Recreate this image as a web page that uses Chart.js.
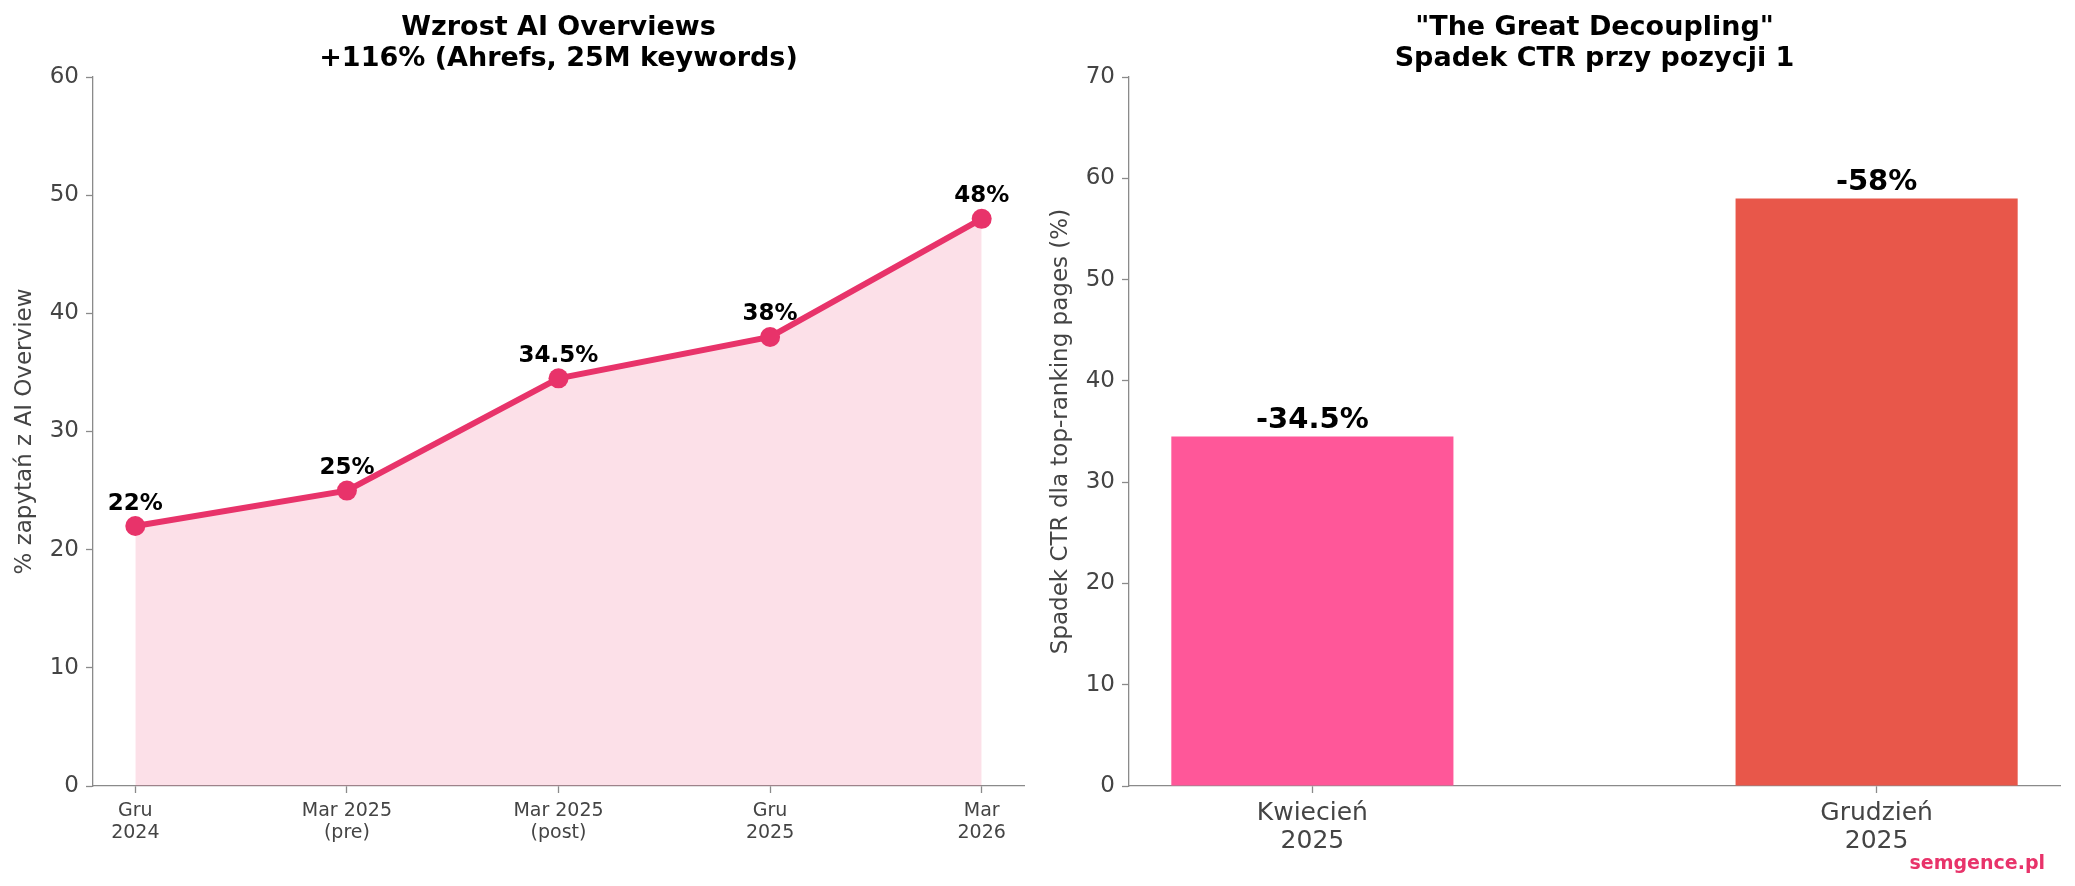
<!DOCTYPE html>
<html>
<head>
<meta charset="utf-8">
<script src="https://cdn.jsdelivr.net/npm/chart.js@4/dist/chart.umd.min.js"></script>
<style>
  html, body { margin: 0; padding: 0; background: #fff; }
  #wrap { position: relative; width: 2075px; height: 886px; }
  .box { position: absolute; top: 0; height: 886px; }
  #boxLeft { left: 0; width: 1037px; }
  #boxRight { left: 1037px; width: 1038px; }
</style>
</head>
<body>
<div id="wrap">
  <div class="box" id="boxLeft"><canvas id="growthChart"></canvas></div>
  <div class="box" id="boxRight"><canvas id="ctrChart"></canvas></div>
</div>
<script>
// Dane - wykres lewy (udział zapytań z AI Overview)
const okresy = [['Gru', '2024'], ['Mar 2025', '(pre)'], ['Mar 2025', '(post)'], ['Gru', '2025'], ['Mar', '2026']];
const udzialAIO = [22, 25, 34.5, 38, 48];
const etykietyAIO = ['22%', '25%', '34.5%', '38%', '48%'];

// Dane - wykres prawy (spadek CTR)
const miesiace = [['Kwiecień', '2025'], ['Grudzień', '2025']];
const spadekCTR = [34.5, 58];
const etykietyCTR = ['-34.5%', '-58%'];

const FONT = "'DejaVu Sans', sans-serif";
const SZARY = '#444444';
const OS = '#8a8a8a';

Chart.defaults.font.family = FONT;
Chart.defaults.animation = false;

// Etykiety wartości nad punktami / słupkami
const etykietyPlugin = {
  id: 'etykiety',
  afterDatasetsDraw(chart, args, opts) {
    const ctx = chart.ctx;
    const meta = chart.getDatasetMeta(0);
    ctx.save();
    ctx.fillStyle = '#000';
    ctx.font = 'bold ' + opts.size + 'px ' + FONT;
    ctx.textAlign = 'center';
    ctx.textBaseline = 'bottom';
    meta.data.forEach((el, i) => {
      ctx.fillText(opts.teksty[i], el.x, el.y - opts.odstep);
    });
    ctx.restore();
  }
};

// Znak wodny w prawym dolnym rogu
const znakPlugin = {
  id: 'znak',
  afterDraw(chart) {
    const ctx = chart.ctx;
    ctx.save();
    ctx.fillStyle = '#e8336a';
    ctx.font = 'bold 19px ' + FONT;
    ctx.textAlign = 'right';
    ctx.textBaseline = 'middle';
    ctx.fillText('semgence.pl', chart.width - 30, 864);
    ctx.restore();
  }
};

function osY(max, tytul) {
  return {
    min: 0,
    max: max,
    border: { color: OS, width: 1.3 },
    grid: { drawOnChartArea: false, tickLength: 7, color: OS, tickWidth: 1.3 },
    ticks: { stepSize: 10, color: SZARY, font: { size: 23 }, padding: 7 },
    title: { display: true, text: tytul, color: SZARY, font: { size: 23 }, padding: { top: 10, bottom: 0 } },
    afterFit: s => { s.width = 92; }
  };
}

new Chart(document.getElementById('growthChart'), {
  type: 'line',
  data: {
    datasets: [{
      data: udzialAIO.map((v, i) => ({ x: i, y: v })),
      borderColor: '#e8336a',
      backgroundColor: 'rgba(240, 100, 140, 0.2)',
      borderWidth: 6,
      fill: 'origin',
      pointRadius: 10,
      pointBackgroundColor: '#e8336a',
      pointBorderWidth: 0,
      tension: 0
    }]
  },
  options: {
    responsive: true,
    maintainAspectRatio: false,
    layout: { padding: { left: 1, right: 13, top: 0, bottom: 0 } },
    plugins: {
      legend: { display: false },
      tooltip: { enabled: false },
      title: {
        display: true,
        fullSize: false,
        text: ['Wzrost AI Overviews', '+116% (Ahrefs, 25M keywords)'],
        color: '#000',
        font: { size: 27, weight: 'bold', lineHeight: 1.13 },
        padding: { top: 13, bottom: 3 }
      },
      etykiety: { teksty: etykietyAIO, size: 23, odstep: 11 }
    },
    scales: {
      x: {
        type: 'linear',
        min: -0.2,
        max: 4.2,
        border: { color: OS, width: 1.3 },
        grid: { drawOnChartArea: false, tickLength: 7, color: OS, tickWidth: 1.3 },
        afterBuildTicks: s => { s.ticks = okresy.map((_, i) => ({ value: i })); },
        ticks: {
          color: SZARY,
          font: { size: 19, lineHeight: 1.16 },
          padding: 7,
          maxRotation: 0,
          autoSkip: false,
          callback: v => okresy[v]
        },
        afterFit: s => { s.height = 100; }
      },
      y: osY(60, '% zapytań z AI Overview')
    }
  },
  plugins: [etykietyPlugin]
});

new Chart(document.getElementById('ctrChart'), {
  type: 'bar',
  data: {
    datasets: [{
      data: spadekCTR.map((v, i) => ({ x: i, y: v })),
      backgroundColor: ['#ff5799', '#e8574a'],
      borderWidth: 0,
      categoryPercentage: 1,
      barPercentage: 0.5
    }]
  },
  options: {
    responsive: true,
    maintainAspectRatio: false,
    layout: { padding: { left: 0, right: 15, top: 0, bottom: 0 } },
    plugins: {
      legend: { display: false },
      tooltip: { enabled: false },
      title: {
        display: true,
        fullSize: false,
        text: ['"The Great Decoupling"', 'Spadek CTR przy pozycji 1'],
        color: '#000',
        font: { size: 27, weight: 'bold', lineHeight: 1.13 },
        padding: { top: 13, bottom: 3 }
      },
      etykiety: { teksty: etykietyCTR, size: 29, odstep: 2 }
    },
    scales: {
      x: {
        type: 'linear',
        min: -0.325,
        max: 1.325,
        offset: false,
        border: { color: OS, width: 1.3 },
        grid: { offset: false, drawOnChartArea: false, tickLength: 7, color: OS, tickWidth: 1.3 },
        afterBuildTicks: s => { s.ticks = miesiace.map((_, i) => ({ value: i })); },
        ticks: {
          color: SZARY,
          font: { size: 25, lineHeight: 1.12 },
          padding: 6,
          maxRotation: 0,
          autoSkip: false,
          callback: v => miesiace[v]
        },
        afterFit: s => { s.height = 100; }
      },
      y: osY(70, 'Spadek CTR dla top-ranking pages (%)')
    }
  },
  plugins: [etykietyPlugin, znakPlugin]
});
</script>
</body>
</html>
